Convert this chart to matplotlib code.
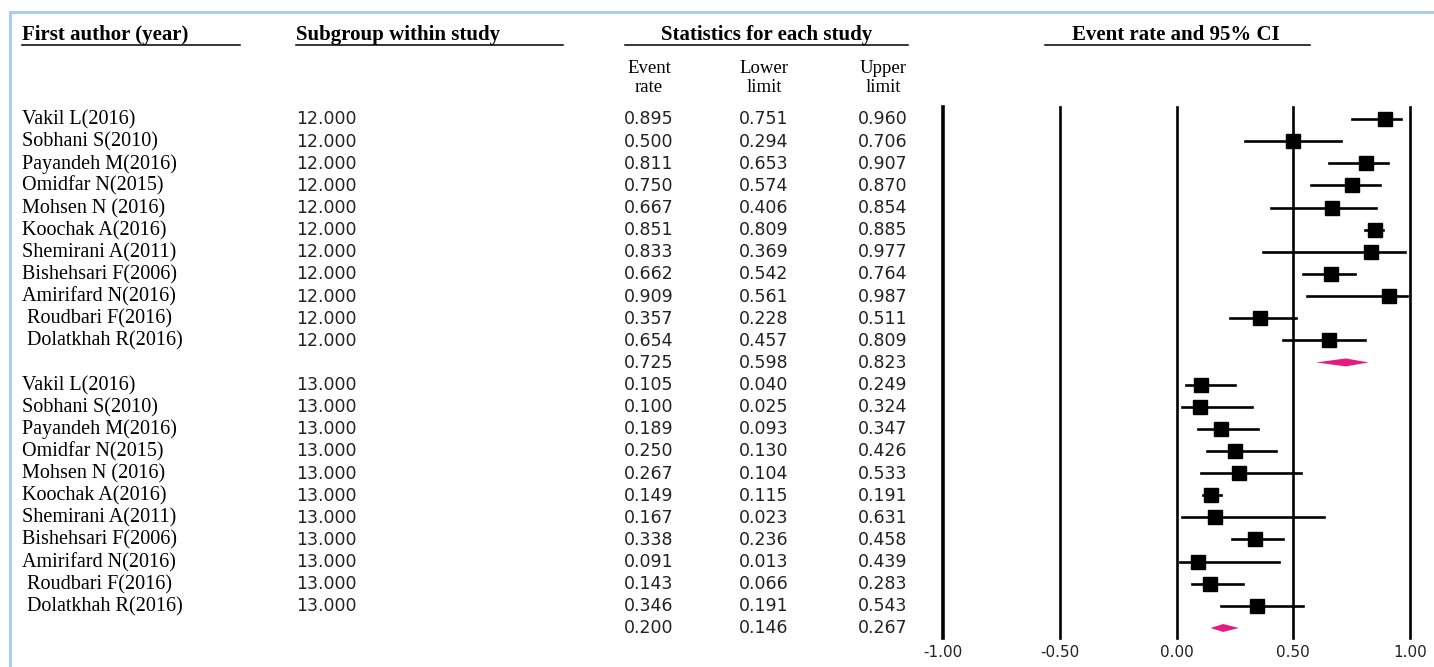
import matplotlib.pyplot as plt
import matplotlib.lines as mlines

# ---- data ----
authors = ["Vakil L(2016)", "Sobhani S(2010)", "Payandeh M(2016)", "Omidfar N(2015)",
           "Mohsen N (2016)", "Koochak A(2016)", "Shemirani A(2011)", "Bishehsari F(2006)",
           "Amirifard N(2016)", " Roudbari F(2016)", " Dolatkhah R(2016)"]
subgroups = ["12.000", "13.000"]

rate_12 = [0.895, 0.500, 0.811, 0.750, 0.667, 0.851, 0.833, 0.662, 0.909, 0.357, 0.654]
lower_12 = [0.751, 0.294, 0.653, 0.574, 0.406, 0.809, 0.369, 0.542, 0.561, 0.228, 0.457]
upper_12 = [0.960, 0.706, 0.907, 0.870, 0.854, 0.885, 0.977, 0.764, 0.987, 0.511, 0.809]
summary_12 = [0.725, 0.598, 0.823]

rate_13 = [0.105, 0.100, 0.189, 0.250, 0.267, 0.149, 0.167, 0.338, 0.091, 0.143, 0.346]
lower_13 = [0.040, 0.025, 0.093, 0.130, 0.104, 0.115, 0.023, 0.236, 0.013, 0.066, 0.191]
upper_13 = [0.249, 0.324, 0.347, 0.426, 0.533, 0.191, 0.631, 0.458, 0.439, 0.283, 0.543]
summary_13 = [0.200, 0.146, 0.267]

xticks = [-1.0, -0.5, 0.0, 0.5, 1.0]

# ---- layout (pixels) ----
W, H = 1434, 667
Y0, DY = 119, 22.13          # first row centre, row spacing
BASE = 5.5                   # baseline offset below row centre
SERIF = "Liberation Serif"
SANS = "DejaVu Sans"
PINK = "#e8197f"

plt.rcParams["axes.unicode_minus"] = False

fig = plt.figure(figsize=(W / 100, H / 100), dpi=100)
fig.patch.set_facecolor("white")

# text layer in pixel coordinates
tax = fig.add_axes([0, 0, 1, 1])
tax.set_xlim(0, W)
tax.set_ylim(H, 0)
tax.axis("off")

# build row list
rows = []
for sg, rates, lows, ups, summ in [(subgroups[0], rate_12, lower_12, upper_12, summary_12),
                                   (subgroups[1], rate_13, lower_13, upper_13, summary_13)]:
    for a, r, lo, up in zip(authors, rates, lows, ups):
        rows.append((a, sg, r, lo, up, False))
    rows.append(("", "", summ[0], summ[1], summ[2], True))

# headers
hdr = dict(fontfamily=SERIF, fontweight="bold", fontsize=15, va="baseline")
tax.text(22, 40, "First author (year)", ha="left", **hdr)
tax.text(296, 40, "Subgroup within study", ha="left", **hdr)
tax.text(767, 40, "Statistics for each study", ha="center", **hdr)
tax.text(1176, 40, "Event rate and 95% CI", ha="center", **hdr)
for x0, x1 in [(22, 240), (296, 563), (625, 908), (1045, 1310)]:
    tax.plot([x0, x1], [45, 45], color="black", lw=1.1)

sub = dict(fontfamily=SERIF, fontsize=13.5, ha="center", va="baseline")
for x, (l1, l2) in zip([649, 764, 883], [("Event", "rate"), ("Lower", "limit"), ("Upper", "limit")]):
    tax.text(x, 73, l1, **sub)
    tax.text(x, 92, l2, **sub)

# table rows
for i, (a, sg, r, lo, up, is_sum) in enumerate(rows):
    y = Y0 + i * DY + BASE
    if a:
        tax.text(22, y, a, fontfamily=SERIF, fontsize=14.5, ha="left", va="baseline")
    if sg:
        tax.text(296, y, sg, fontfamily=SANS, fontsize=12.5, ha="left", va="baseline",
                 color="#222222")
    for x, v in zip([649, 764, 883], [r, lo, up]):
        tax.text(x, y, f"{v:.3f}", fontfamily=SANS, fontsize=12.5, ha="center",
                 va="baseline", color="#222222")

# ---- forest plot axes ----
left, right = 943 / W, 1410 / W
top_px, bot_px = 107, 638
fax = fig.add_axes([left, 1 - bot_px / H, right - left, (bot_px - top_px) / H])
fax.set_xlim(-1, 1)
fax.set_ylim((bot_px - Y0) / DY, (top_px - Y0) / DY)
fax.patch.set_alpha(0)
for s in fax.spines.values():
    s.set_visible(False)
fax.set_yticks([])
fax.set_xticks(xticks)
fax.set_xticklabels([f"{t:.2f}" for t in xticks], fontfamily=SANS, fontsize=11,
                    color="#222222")
fax.tick_params(axis="x", length=0, pad=5)

for t in xticks:
    fax.axvline(t, color="black", lw=2.6 if t == -1 else 1.9, zorder=1, clip_on=False)

for i, (a, sg, r, lo, up, is_sum) in enumerate(rows):
    if is_sum:
        fax.fill([lo, r, up, r], [i, i - 0.18, i, i + 0.18], color=PINK, lw=0, zorder=3)
    else:
        fax.plot([lo, up], [i, i], color="black", lw=1.9, zorder=2, clip_on=False)
        fax.plot([r], [i], marker="s", color="black", markersize=9.5, zorder=3,
                 clip_on=False)

# light blue frame
fig.add_artist(mlines.Line2D([10 / W, 1], [1 - 12 / H, 1 - 12 / H],
                             color="#a9cdeb", lw=2.2, transform=fig.transFigure))
fig.add_artist(mlines.Line2D([10 / W, 10 / W], [0, 1 - 12 / H],
                             color="#a9cdeb", lw=2.2, transform=fig.transFigure))

fig.savefig("out.png", dpi=100)
